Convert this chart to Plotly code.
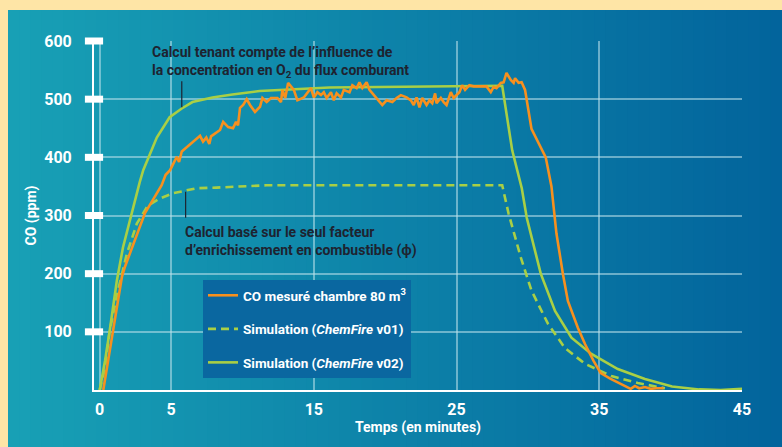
import plotly.graph_objects as go

# ---------------- data ----------------
x_ticks = [0, 5, 15, 25, 35, 45]
y_ticks = [100, 200, 300, 400, 500, 600]

co_measured_t = [0.25, 0.93, 1.56, 1.77, 3.17, 3.8, 4.34, 4.62, 4.93, 5.4, 5.56, 5.75, 6.45, 7.03,
                 7.24, 7.47, 7.68, 7.8, 8.43, 8.65, 9.0, 9.34, 9.55, 9.69, 9.83, 10.05, 10.3, 10.53,
                 10.88, 11.23, 11.4, 11.7, 12.0, 12.45, 12.7, 12.8, 13.0, 13.2, 13.6, 13.85, 14.3,
                 14.8, 15.0, 15.25, 15.5, 15.7, 15.9, 16.2, 16.4, 16.6, 16.9, 17.1, 17.5, 17.7, 18.0,
                 18.2, 18.4, 18.7, 18.9, 19.2, 19.6, 19.8, 20.1, 20.5, 20.8, 21.1, 21.5, 21.8, 22.0,
                 22.2, 22.4, 22.6, 22.9, 23.1, 23.3, 23.5, 23.6, 23.9, 24.1, 24.3, 24.6, 24.8, 25.2,
                 25.4, 25.6, 25.9, 26.2, 27.1, 27.4, 27.6, 27.8, 28.1, 28.3, 28.5, 28.8, 29.0, 29.1,
                 29.35, 29.56, 29.8, 30.25, 31.25, 31.65, 32.0, 32.45, 32.8, 33.5, 34.0, 34.6, 35.1,
                 35.8, 36.8, 37.2, 37.5, 37.8, 38.2, 38.6, 39.0, 39.5]
co_measured = [0, 100, 195, 212, 304, 330, 352, 370, 378, 401, 392, 410, 424, 437,
               427, 434, 423, 436, 447, 461, 452, 450, 461, 455, 485, 490, 500, 490,
               478, 487, 502, 495, 502, 502, 495, 516, 502, 528, 516, 498, 503,
               519, 503, 512, 507, 512, 502, 512, 498, 510, 503, 516, 512, 524, 519,
               529, 519, 529, 516, 507, 495, 490, 498, 495, 502, 507, 503, 498, 490,
               503, 486, 502, 490, 498, 493, 510, 493, 502, 495, 490, 512, 502, 512,
               524, 516, 524, 522, 522, 512, 521, 519, 528, 529, 545, 533, 528, 536,
               528, 529, 516, 449, 400, 350, 269, 200, 153, 107, 79, 50, 29,
               19, 7, 2, 7, 3, 5, 2, 3, 3]

sim_v01_t = [0.0, 0.37, 0.7, 1.28, 1.9, 2.6, 3.37, 4.2, 5.1, 6.1, 6.8, 8.2, 11.7, 26.8, 28.2,
             28.65, 29.5, 30.25, 31.4, 32.6, 34.0, 35.85, 37.7, 39.6]
sim_v01 = [0, 38, 102, 171, 234, 286, 317, 329, 338, 343, 347, 348, 352, 352, 352,
           303, 228, 171, 114, 72, 45, 24, 12, 3]

sim_v02_t = [0.0, 0.37, 0.7, 1.2, 1.63, 2.25, 2.8, 3.05, 4.0, 4.9, 5.75, 6.5, 7.9, 9.3, 11.2,
             16.1, 25.4, 28.2, 28.9, 29.57, 29.92, 30.9, 31.9, 33.05, 34.45, 36.3, 38.2, 40.1,
             42.0, 43.5, 45.0]
sim_v02 = [0, 50, 102, 188, 245, 306, 357, 378, 434, 469, 484, 495, 503, 508, 514,
           520, 523, 523, 412, 347, 296, 200, 136, 90, 62, 36, 19, 6,
           1, 0, 2]

names = ["CO mesuré chambre 80 m<sup>3</sup>",
         "Simulation (<i>ChemFire</i> v01)",
         "Simulation (<i>ChemFire</i> v02)"]

note_o2 = "Calcul tenant compte de l’influence de<br>la concentration en O<sub>2</sub> du flux comburant"
note_phi = "Calcul basé sur le seul facteur<br>d’enrichissement en combustible (ϕ)"

# ---------------- layout geometry ----------------
W, H = 782, 447
ML, MR, MT, MB = 94, 40, 41, 57
PW, PH = W - ML - MR, H - MT - MB
x_range = [-0.4, 45]
y_range = [0, 600]

def px2paper_x(px):
    return (px - ML) / PW

def px2paper_y(py):
    return (H - MB - py) / PH

FONT = "Roboto, Liberation Sans, sans-serif"
ORANGE = "#F7901E"
GREEN = "#A9CF45"
DARK = "#1E2330"

fig = go.Figure()

# gradient panel (strips)
c0 = (24, 160, 181)
c1 = (2, 100, 156)
N = 70
px0, px1 = 8, W
for i in range(N):
    f = i / (N - 1)
    col = tuple(round(c0[k] + (c1[k] - c0[k]) * f) for k in range(3))
    a = px0 + (px1 - px0) * i / N
    b = px0 + (px1 - px0) * (i + 1) / N + 1
    fig.add_shape(type="rect", xref="paper", yref="paper",
                  x0=px2paper_x(a), x1=px2paper_x(b),
                  y0=px2paper_y(H + 2), y1=px2paper_y(10),
                  fillcolor="rgb(%d,%d,%d)" % col, line_width=0, layer="below")

fig.add_trace(go.Scatter(x=sim_v01_t, y=sim_v01, mode="lines", name=names[1],
                         line=dict(color=GREEN, width=2.6, dash="8px,5px"),
                         legendrank=2, legendgroup="b"))
fig.add_trace(go.Scatter(x=sim_v02_t, y=sim_v02, mode="lines", name=names[2],
                         line=dict(color=GREEN, width=2.6),
                         legendrank=3, legendgroup="c"))
fig.add_trace(go.Scatter(x=co_measured_t, y=co_measured, mode="lines", name=names[0],
                         line=dict(color=ORANGE, width=2.6),
                         legendrank=1, legendgroup="a"))

# white tick blocks on the y axis
fig.add_trace(go.Scatter(x=[x_range[0]] * len(y_ticks), y=y_ticks, mode="markers",
                         marker=dict(symbol="line-ew", size=13,
                                     line=dict(width=7, color="white")),
                         showlegend=False, cliponaxis=False, hoverinfo="skip"))

# leader lines for notes
fig.add_shape(type="line", x0=5.75, x1=5.75, y0=531, y1=486,
              line=dict(color=DARK, width=1.2))
fig.add_shape(type="line", x0=6.02, x1=6.02, y0=341, y1=296,
              line=dict(color=DARK, width=1.2))

fig.add_annotation(x=3.52, y=599, xref="x", yref="y", text=note_o2, showarrow=False,
                   xanchor="left", yanchor="top", align="left",
                   font=dict(family=FONT, size=14, color=DARK, weight="bold"))
fig.add_annotation(x=5.84, y=289, xref="x", yref="y", text=note_phi, showarrow=False,
                   xanchor="left", yanchor="top", align="left",
                   font=dict(family=FONT, size=14, color=DARK, weight="bold"))

grid = "rgba(190,225,235,0.55)"
fig.update_layout(
    width=W, height=H, autosize=False,
    margin=dict(l=ML, r=MR, t=MT, b=MB, pad=0),
    paper_bgcolor="#FEE5A6",
    plot_bgcolor="rgba(0,0,0,0)",
    font=dict(family=FONT, color="white", size=14, weight="bold"),
    legend=dict(x=px2paper_x(203), y=px2paper_y(280), xanchor="left", yanchor="top",
                bgcolor="#0A67A0", borderwidth=0, tracegroupgap=13,
                font=dict(family=FONT, size=13.5, color="white", weight="bold"),
                traceorder="grouped"),
    xaxis=dict(range=x_range, tickvals=x_ticks, showgrid=True, gridcolor=grid,
               gridwidth=1.5, showline=True, linecolor="white", linewidth=2,
               zeroline=False, ticks="", ticklabelstandoff=4,
               tickfont=dict(size=16, color="white", family=FONT, weight="bold"),
               title=dict(text="Temps (en minutes)", standoff=2,
                          font=dict(size=14, color="white", family=FONT, weight="bold"))),
    yaxis=dict(range=y_range, tickvals=y_ticks, showgrid=True, gridcolor=grid,
               gridwidth=1.5, showline=True, linecolor="white", linewidth=2,
               zeroline=False, ticks="", ticklabelstandoff=17,
               tickfont=dict(size=16, color="white", family=FONT, weight="bold"),
               title=dict(text="CO (ppm)", standoff=4,
                          font=dict(size=14, color="white", family=FONT, weight="bold"))),
)

fig.write_html("out.html")
